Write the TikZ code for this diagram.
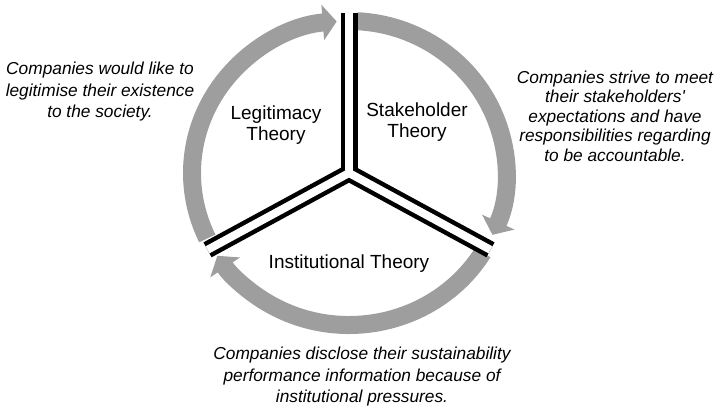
\documentclass[tikz,border=0pt]{standalone}
\usepackage{fontspec}
\setmainfont{Liberation Sans}
\usetikzlibrary{arrows.meta,calc}
\definecolor{ringgray}{RGB}{158,158,158}
\begin{document}
\begin{tikzpicture}[x=1pt,y=1pt,
  ring/.style={draw=ringgray, line width=18pt, -{Triangle[width=35pt,length=14pt]}},
  sepout/.style={draw=black, line width=17pt},
  sepin/.style={draw=white, line width=8pt},
  theory/.style={font=\fontsize{19}{21.5}\selectfont, align=center, inner sep=0pt},
  desc/.style={font=\fontsize{17.3}{21.5}\selectfont\itshape, align=center, inner sep=0pt}]
\useasboundingbox (0,0) rectangle (720,410);
\coordinate (c) at (349,237);
\coordinate (e1) at ($(c)+(90:160pt)$);
\coordinate (e2) at ($(c)+(-28.5:161pt)$);
\coordinate (e3) at ($(c)+(208.5:161pt)$);
% ring arrows (clockwise)
\draw[ring] ($(c)+(205.5:157pt and 152pt)$) arc[start angle=205.5, end angle=94.5, x radius=157pt, y radius=152pt];
\draw[ring] ($(c)+(87:157pt and 152pt)$) arc[start angle=87, end angle=-24, x radius=157pt, y radius=152pt];
\draw[ring] ($(c)+(-31.5:157pt and 152pt)$) arc[start angle=-31.5, end angle=-147, x radius=157pt, y radius=152pt];
% separators
\draw[sepout] (c) -- (e1);
\draw[sepout] (c) -- (e2);
\draw[sepout] (c) -- (e3);
\draw[sepin] (c) -- (e1);
\draw[sepin] (c) -- (e2);
\draw[sepin] (c) -- (e3);
% theory labels
\node[theory] (leg) at (276,285) {Legitimacy\\Theory};
\node[theory] (sta) at (417,288) {Stakeholder\\Theory};
\node[theory] (ins) at (349,146) {Institutional Theory};
% descriptions
\node[desc] (dl) at (100,318) {Companies would like to\\legitimise their existence\\to the society.};
\node[desc, font=\fontsize{17.3}{19.5}\selectfont\itshape] (dr) at (615,294) {Companies strive to meet\\their stakeholders\textquotesingle\\expectations and have\\responsibilities regarding\\to be accountable.};
\node[desc] (db) at (362,33) {Companies disclose their sustainability\\performance information because of\\institutional pressures.};
\end{tikzpicture}
\end{document}
